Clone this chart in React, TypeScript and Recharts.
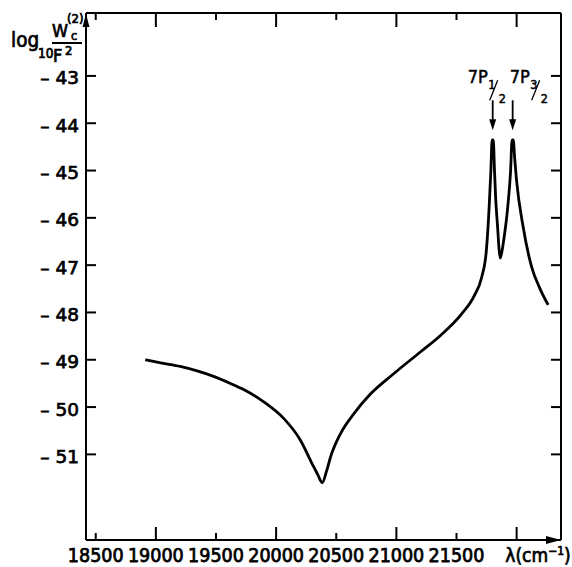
import React from 'react';
import { LineChart, Line, XAxis, YAxis, ReferenceDot } from 'recharts';

// wavenumber (cm^-1)
const wavenumbers = [
  18911, 19050, 19202, 19350, 19480, 19620, 19730, 19897, 20063, 20202, 20300, 20350, 20383,
  20420, 20452, 20536, 20647, 20786, 20980, 21202, 21369, 21536, 21647, 21710, 21748, 21771,
  21786, 21796, 21806, 21816, 21826, 21842, 21852, 21863, 21875, 21891, 21925, 21950, 21962,
  21972, 21984, 21999, 22054, 22124, 22193, 22262,
];
// log10 (Wc(2) / F^2)
const logW = [
  -49.0, -49.07, -49.14, -49.24, -49.35, -49.5, -49.63, -49.89, -50.24, -50.7, -51.2, -51.45, -51.6,
  -51.35, -51.06, -50.56, -50.14, -49.72, -49.29, -48.83, -48.48, -48.05, -47.65, -47.25, -46.7, -45.8,
  -45.0, -44.35, -44.35, -45.0, -45.6, -46.2, -46.6, -46.85, -46.75, -46.5, -45.8, -45.0, -44.35,
  -44.35, -44.75, -45.2, -46.19, -47.03, -47.49, -47.84,
];

const xTicks = [18500, 19000, 19500, 20000, 20500, 21000, 21500, 22000];
const xTickLabels = ['18500', '19000', '19500', '20000', '20500', '21000', '21500', ''];
const yTicks = [-51, -50, -49, -48, -47, -46, -45, -44, -43];
const yTickLabels = ['51', '50', '49', '48', '47', '46', '45', '44', '43'];

const peakPositions = [21801, 21967];
const peakTerms = ['7P', '7P'];
const peakNum = ['1', '3'];
const peakDen = ['2', '2'];
const peakLabelDx = [-25, -3];

const X_DOMAIN: [number, number] = [18419, 22369];
const Y_DOMAIN: [number, number] = [-52.81, -41.67];

const data = wavenumbers.map((w, i) => ({ w, v: logW[i] }));

const FONT = '"DejaVu Sans Condensed", "DejaVu Sans", sans-serif';
const YFONT = '"DejaVu Sans", sans-serif';

const BottomTick = (props: any) => {
  const { x, y, payload } = props;
  const v = payload.value;
  const long = v % 1000 === 0;
  const idx = xTicks.indexOf(v);
  return (
    <g>
      <line x1={x} x2={x} y1={y} y2={y - (long ? 13 : 7)} stroke="#000" strokeWidth={2} />
      <text x={x} y={y + 21.5} textAnchor="middle" fontFamily={FONT} fontSize={19.5} fill="#000" stroke="#000" strokeWidth={0.75}>
        {xTickLabels[idx]}
      </text>
    </g>
  );
};

const TopTick = (props: any) => {
  const { x, y, payload } = props;
  const long = payload.value % 1000 === 0;
  return <line x1={x} x2={x} y1={y} y2={y + (long ? 14 : 7)} stroke="#000" strokeWidth={2} />;
};

const LeftTick = (props: any) => {
  const { x, y, payload } = props;
  const idx = yTicks.indexOf(payload.value);
  return (
    <g>
      <line x1={x} x2={x + 10} y1={y} y2={y} stroke="#000" strokeWidth={2} />
      <text x={x - 7} y={y + 8.5} textAnchor="end" fontFamily={YFONT} fontSize={18.5} fill="#000" stroke="#000" strokeWidth={0.75}>
        {'\u2013 ' + yTickLabels[idx]}
      </text>
    </g>
  );
};

const RightTick = (props: any) => {
  const { x, y } = props;
  return <line x1={x} x2={x - 10} y1={y} y2={y} stroke="#000" strokeWidth={2} />;
};

const YTitle = (props: any) => {
  const vb = props.viewBox || { x: 0, y: 13 };
  const bx = vb.x;
  const by = vb.y;
  const f = { fontFamily: FONT, fill: '#000', stroke: '#000', strokeWidth: 0.7 } as any;
  return (
    <g>
      <text x={bx + 11} y={by + 34} fontSize={20.5} {...f}>log</text>
      <text x={bx + 38} y={by + 45} fontSize={13.5} {...f}>10</text>
      <text x={bx + 52} y={by + 24} fontSize={18} {...f}>W</text>
      <text x={bx + 71} y={by + 27} fontSize={12.5} {...f}>c</text>
      <text x={bx + 67} y={by + 10} fontSize={13} {...f}>(2)</text>
      <line x1={bx + 52} x2={bx + 82} y1={by + 30} y2={by + 30} stroke="#000" strokeWidth={2} />
      <text x={bx + 53} y={by + 49} fontSize={18} {...f}>F</text>
      <text x={bx + 65} y={by + 42} fontSize={13} {...f}>2</text>
    </g>
  );
};

const XTitle = (props: any) => {
  const vb = props.viewBox || { x: 86, y: 540, width: 475 };
  const right = vb.x + vb.width;
  return (
    <text x={right - 23} y={vb.y + 21.5} textAnchor="middle" fontFamily={FONT} fontSize={19} fill="#000" stroke="#000" strokeWidth={0.7}>
      λ(cm
      <tspan fontSize={12} dy={-7}>−1</tspan>
      <tspan dy={7}>)</tspan>
    </text>
  );
};

const makePeakShape = (i: number) => (props: any) => {
  const { cx, cy } = props;
  const sx = cx + peakLabelDx[i];
  const f = { fontFamily: FONT, fill: '#000', stroke: '#000', strokeWidth: 0.5 } as any;
  return (
    <g>
      <line x1={cx} x2={cx} y1={cy - 30} y2={cy - 8} stroke="#000" strokeWidth={1.8} />
      <polygon points={`${cx},${cy} ${cx - 3.5},${cy - 11} ${cx + 3.5},${cy - 11}`} fill="#000" />
      <text x={sx} y={cy - 47} fontSize={18} {...f}>{peakTerms[i]}</text>
      <text x={sx + 20.5} y={cy - 41} fontSize={12.5} {...f}>{peakNum[i]}</text>
      <line x1={sx + 22} x2={sx + 30} y1={cy - 30} y2={cy - 50} stroke="#000" strokeWidth={1.3} />
      <text x={sx + 31} y={cy - 27} fontSize={12.5} {...f}>{peakDen[i]}</text>
    </g>
  );
};

const RightArrow = (props: any) => {
  const { cx, cy } = props;
  return <polygon points={`${cx},${cy} ${cx - 15},${cy - 4} ${cx - 15},${cy + 4}`} fill="#000" />;
};

const UpArrow = (props: any) => {
  const { cx, cy } = props;
  return <polygon points={`${cx},${cy + 1} ${cx - 3.5},${cy + 14} ${cx + 3.5},${cy + 14}`} fill="#000" />;
};

export default function App() {
  return (
    <div style={{ position: 'absolute', left: 0, top: 0, background: '#fff' }}>
      <LineChart width={572} height={567} data={data} margin={{ top: 12, right: 10, bottom: 0, left: 0 }}>
        <XAxis
          xAxisId="b"
          dataKey="w"
          type="number"
          domain={X_DOMAIN}
          allowDataOverflow
          ticks={xTicks}
          interval={0}
          height={27}
          tickSize={0}
          tickMargin={0}
          tickLine={false}
          axisLine={{ stroke: '#000', strokeWidth: 2 }}
          tick={<BottomTick />}
          label={<XTitle />}
        />
        <XAxis
          xAxisId="t"
          orientation="top"
          dataKey="w"
          type="number"
          domain={X_DOMAIN}
          allowDataOverflow
          ticks={xTicks}
          interval={0}
          height={1}
          tickSize={0}
          tickMargin={0}
          tickLine={false}
          axisLine={{ stroke: '#000', strokeWidth: 2 }}
          tick={<TopTick />}
        />
        <YAxis
          yAxisId="l"
          type="number"
          domain={Y_DOMAIN}
          allowDataOverflow
          ticks={yTicks}
          interval={0}
          width={86}
          tickSize={0}
          tickMargin={0}
          tickLine={false}
          axisLine={{ stroke: '#000', strokeWidth: 2 }}
          tick={<LeftTick />}
          label={<YTitle />}
        />
        <YAxis
          yAxisId="r"
          orientation="right"
          type="number"
          domain={Y_DOMAIN}
          allowDataOverflow
          ticks={yTicks}
          interval={0}
          width={1}
          tickSize={0}
          tickMargin={0}
          tickLine={false}
          axisLine={{ stroke: '#000', strokeWidth: 2 }}
          tick={<RightTick />}
        />
        <Line
          xAxisId="b"
          yAxisId="l"
          dataKey="v"
          type="monotone"
          stroke="#000"
          strokeWidth={2.8}
          dot={false}
          isAnimationActive={false}
        />
        <Line
          xAxisId="t"
          yAxisId="r"
          dataKey="v"
          type="monotone"
          stroke="none"
          strokeWidth={0}
          dot={false}
          activeDot={false}
          legendType="none"
          isAnimationActive={false}
        />
        {peakPositions.map((p, i) => (
          <ReferenceDot key={i} xAxisId="b" yAxisId="l" x={p} y={-44.15} ifOverflow="visible" shape={makePeakShape(i)} />
        ))}
        <ReferenceDot xAxisId="b" yAxisId="l" x={X_DOMAIN[1]} y={Y_DOMAIN[0]} ifOverflow="visible" shape={RightArrow} />
        <ReferenceDot xAxisId="b" yAxisId="l" x={X_DOMAIN[0]} y={Y_DOMAIN[1]} ifOverflow="visible" shape={UpArrow} />
      </LineChart>
    </div>
  );
}
